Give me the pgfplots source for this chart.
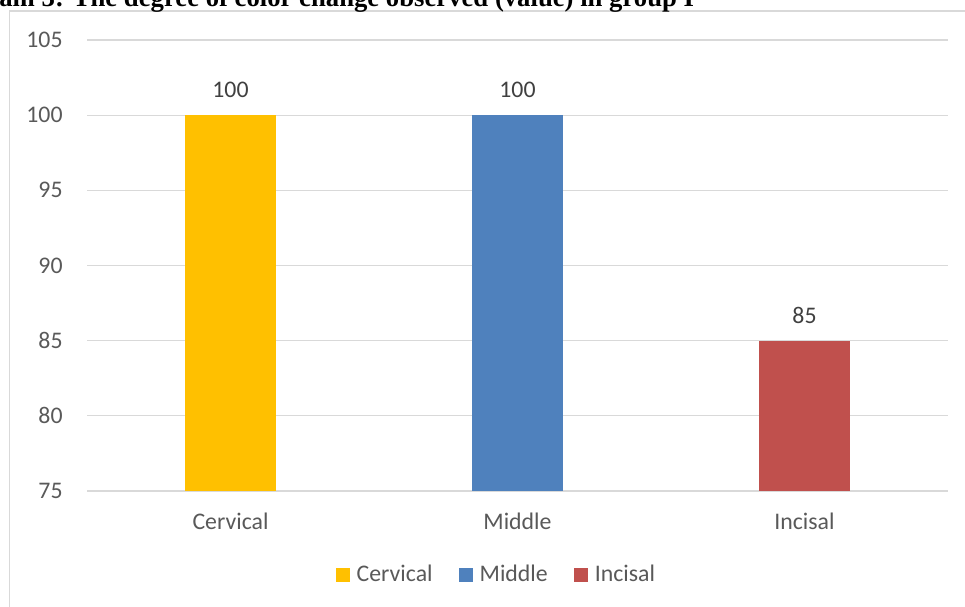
\documentclass[border=0pt]{standalone}
\usepackage{pgfplots}
\pgfplotsset{compat=1.18}
\usepackage{fontspec}
\setmainfont{Carlito}
\newfontfamily\titlefont{Liberation Serif}

\definecolor{cervical}{HTML}{FFC000}
\definecolor{middle}{HTML}{4F81BD}
\definecolor{incisal}{HTML}{C0504D}
\definecolor{gridgray}{HTML}{D9D9D9}
\definecolor{ticktext}{HTML}{595959}
\definecolor{labeltext}{HTML}{404040}

\begin{document}
\begin{tikzpicture}[x=0.5pt,y=0.5pt]
\clip (0,0) rectangle (965,606);
\useasboundingbox (0,0) rectangle (965,606);

% chart frame
\draw[gridgray, line width=0.75pt] (9.5,-5) -- (9.5,595) -- (975,595);

% caption line above the chart
\node[anchor=base west, inner sep=0pt,
      font=\titlefont\bfseries\fontsize{13.35}{15}\selectfont]
  at (-1,599) {am 3: The degree of color change observed (value) in group I};

\begin{axis}[
  at={(43.5pt,57.5pt)}, anchor=south west,
  scale only axis,
  width=430.5pt, height=225.5pt,
  ybar, bar width=45.5pt,
  xmin=-0.5, xmax=2.5,
  ymin=75, ymax=105,
  xtick={0,1,2},
  xticklabels={Cervical,Middle,Incisal},
  ytick={75,80,...,105},
  ymajorgrids,
  grid style={gridgray, line width=0.65pt},
  axis line style={draw=none},
  major tick length=0pt,
  tick label style={font=\fontsize{11.9}{14}\selectfont, text=ticktext},
  /pgf/number format/assume math mode=true,
  yticklabel style={inner sep=0pt, xshift=-12pt},
  xticklabel style={inner sep=0pt, yshift=-11pt},
  nodes near coords,
  every node near coord/.append style={font=\fontsize{11.9}{14}\selectfont,
      text=labeltext, inner sep=0pt, yshift=8.5pt,
      /pgf/number format/assume math mode=true},
  legend image code/.code={\fill[#1] (0pt,-3.5pt) rectangle (7pt,3.5pt);},
  legend style={draw=none, fill=none,
      at={(0.476,-0.186)}, anchor=center,
      legend columns=3,
      nodes={inner sep=1.5pt},
      font=\fontsize{11.9}{14}\selectfont, text=ticktext,
      /tikz/every odd column/.append style={column sep=2pt},
      /tikz/every even column/.append style={column sep=11.5pt}},
]
\addplot[fill=cervical, draw=none, bar shift=0pt] coordinates {(0,100)};
\addplot[fill=middle, draw=none, bar shift=0pt] coordinates {(1,100)};
\addplot[fill=incisal, draw=none, bar shift=0pt] coordinates {(2,85)};
\legend{Cervical,Middle,Incisal}
\end{axis}
\end{tikzpicture}
\end{document}
